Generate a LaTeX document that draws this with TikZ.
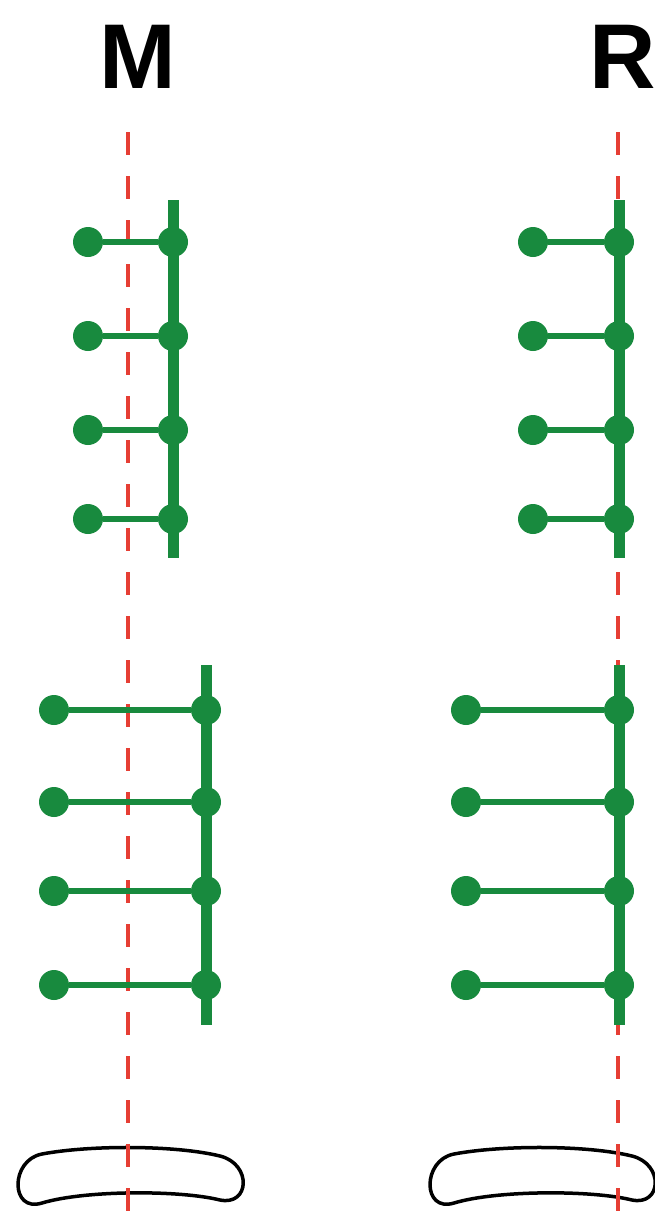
\documentclass[tikz,border=0pt]{standalone}
\usepackage{fontspec}
\newfontfamily\labfont{Liberation Sans}
\definecolor{lgreen}{RGB}{24,138,62}
\definecolor{lred}{RGB}{230,62,52}
\begin{document}
\begin{tikzpicture}[x=1pt,y=-1pt,
  dot/.style={circle,fill=lgreen,draw=none,minimum size=30pt,inner sep=0pt},
  rung/.style={draw=lgreen,line width=6pt},
  bar/.style={draw=lgreen,line width=11pt,line cap=butt},
  axis/.style={draw=lred,line width=3.5pt,dash pattern=on 23pt off 21pt},
  plate/.style={draw=black,line width=3.5pt,line join=round},
  lab/.style={font=\labfont\bfseries\fontsize{92}{92}\selectfont,inner sep=0pt,anchor=base}]
\useasboundingbox (0,0) rectangle (654,1218);
% labels
\node[lab] (lM) at (137.5,88) {M};
\node[lab] (lR) at (623,88) {R};
% bottom plates
\foreach \s in {0,412}{
  \begin{scope}[xshift=\s]
    \draw[plate] (42,1154) .. controls (90,1145) and (175,1145) .. (220,1156)
      .. controls (252,1164) and (250,1206) .. (220,1200)
      .. controls (180,1190) and (85,1190) .. (42,1203)
      .. controls (10,1213) and (10,1160) .. (42,1154) -- cycle;
  \end{scope}
}
% axes
\coordinate (aMt) at (128,132);
\coordinate (aMb) at (128,1218);
\coordinate (aRt) at (618,132);
\coordinate (aRb) at (618,1218);
\draw[axis] (aMt) -- (aMb);
\draw[axis] (aRt) -- (aRb);
% M top ladder
\coordinate (mtT) at (173,200); \coordinate (mtB) at (173,558);
\draw[bar] (mtT) -- (mtB);
\foreach \y [count=\i] in {242,336,430,519}{
  \node[dot] (mt\i l) at (88,\y) {};
  \node[dot] (mt\i r) at (173,\y) {};
  \draw[rung] (mt\i l) -- (mt\i r);
}
% M bottom ladder
\coordinate (mbT) at (206,665); \coordinate (mbB) at (206,1025);
\draw[bar] (mbT) -- (mbB);
\foreach \y [count=\i] in {710,802,891,985}{
  \node[dot] (mb\i l) at (54,\y) {};
  \node[dot] (mb\i r) at (206,\y) {};
  \draw[rung] (mb\i l) -- (mb\i r);
}
% R top ladder
\coordinate (rtT) at (619,200); \coordinate (rtB) at (619,558);
\draw[bar] (rtT) -- (rtB);
\foreach \y [count=\i] in {242,336,430,519}{
  \node[dot] (rt\i l) at (533,\y) {};
  \node[dot] (rt\i r) at (619,\y) {};
  \draw[rung] (rt\i l) -- (rt\i r);
}
% R bottom ladder
\coordinate (rbT) at (619,665); \coordinate (rbB) at (619,1025);
\draw[bar] (rbT) -- (rbB);
\foreach \y [count=\i] in {710,802,891,985}{
  \node[dot] (rb\i l) at (466,\y) {};
  \node[dot] (rb\i r) at (619,\y) {};
  \draw[rung] (rb\i l) -- (rb\i r);
}
\end{tikzpicture}
\end{document}
